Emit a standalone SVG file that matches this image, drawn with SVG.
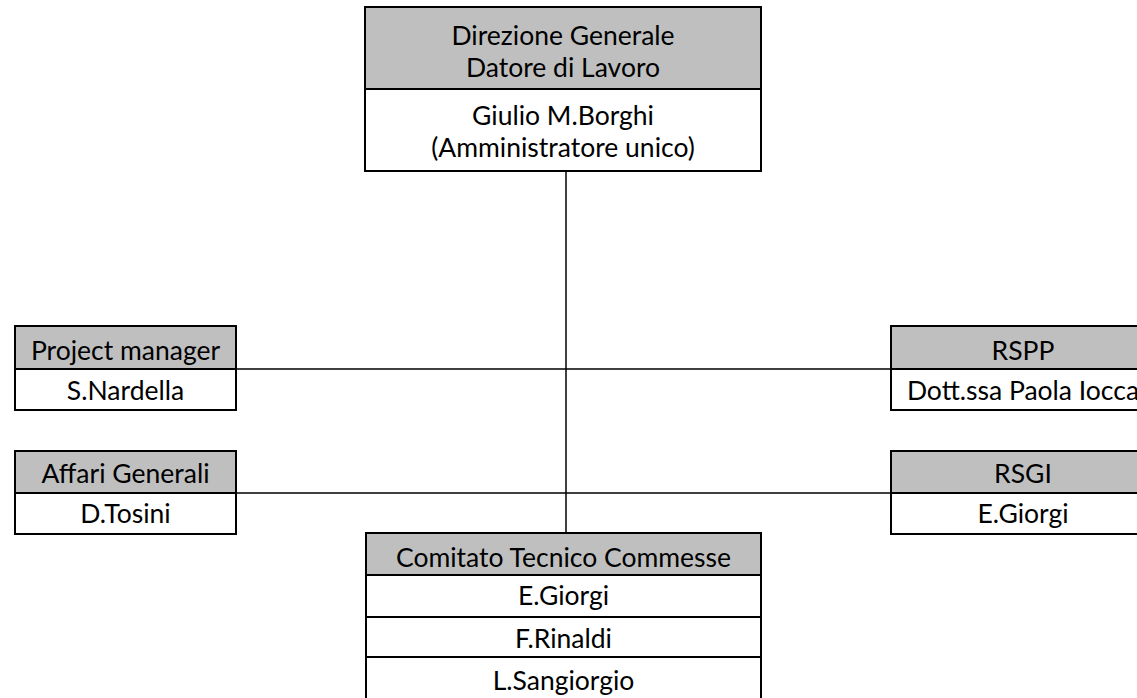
<svg xmlns="http://www.w3.org/2000/svg" width="1137" height="698" viewBox="0 0 1137 698">
<style>
.hd{fill:#bfbfbf;stroke:#000;stroke-width:2}
.bd{fill:#fff;stroke:#000;stroke-width:2}
.t{font-family:"Lato","Liberation Sans",sans-serif;font-size:26.5px;fill:#000;text-anchor:middle}
.c{stroke:#000;stroke-width:1.5;fill:none}
</style>
<rect width="1137" height="698" fill="#fff"/>
<g id="connectors">
<line class="c" x1="566" y1="171" x2="566" y2="533"/>
<line class="c" x1="236" y1="369" x2="891" y2="369"/>
<line class="c" x1="236" y1="493" x2="891" y2="493"/>
</g>
<g id="direzione">
<rect class="hd" x="365" y="7" width="396" height="82"/>
<rect class="bd" x="365" y="89" width="396" height="82"/>
<text class="t" x="563" y="45">Direzione Generale</text>
<text class="t" x="563" y="77">Datore di Lavoro</text>
<text class="t" x="563" y="125">Giulio M.Borghi</text>
<text class="t" x="563" y="157">(Amministratore unico)</text>
</g>
<g id="project-manager">
<rect class="hd" x="15" y="326" width="221" height="43"/>
<rect class="bd" x="15" y="369" width="221" height="41"/>
<text class="t" x="125.5" y="360">Project manager</text>
<text class="t" x="125.5" y="400">S.Nardella</text>
</g>
<g id="affari-generali">
<rect class="hd" x="15" y="451" width="221" height="42"/>
<rect class="bd" x="15" y="493" width="221" height="41"/>
<text class="t" x="125.5" y="483">Affari Generali</text>
<text class="t" x="125.5" y="523">D.Tosini</text>
</g>
<g id="rspp">
<rect class="hd" x="891" y="326" width="264" height="43"/>
<rect class="bd" x="891" y="369" width="264" height="41"/>
<text class="t" x="1023" y="360">RSPP</text>
<text class="t" x="1023" y="400">Dott.ssa Paola Iocca</text>
</g>
<g id="rsgi">
<rect class="hd" x="891" y="451" width="264" height="42"/>
<rect class="bd" x="891" y="493" width="264" height="41"/>
<text class="t" x="1023" y="483">RSGI</text>
<text class="t" x="1023" y="523">E.Giorgi</text>
</g>
<g id="comitato">
<rect class="hd" x="366" y="533" width="395" height="42"/>
<rect class="bd" x="366" y="575" width="395" height="42"/>
<rect class="bd" x="366" y="617" width="395" height="40"/>
<rect class="bd" x="366" y="657" width="395" height="45"/>
<text class="t" x="563.5" y="567">Comitato Tecnico Commesse</text>
<text class="t" x="563.5" y="605">E.Giorgi</text>
<text class="t" x="563.5" y="648">F.Rinaldi</text>
<text class="t" x="563.5" y="690">L.Sangiorgio</text>
</g>
</svg>
